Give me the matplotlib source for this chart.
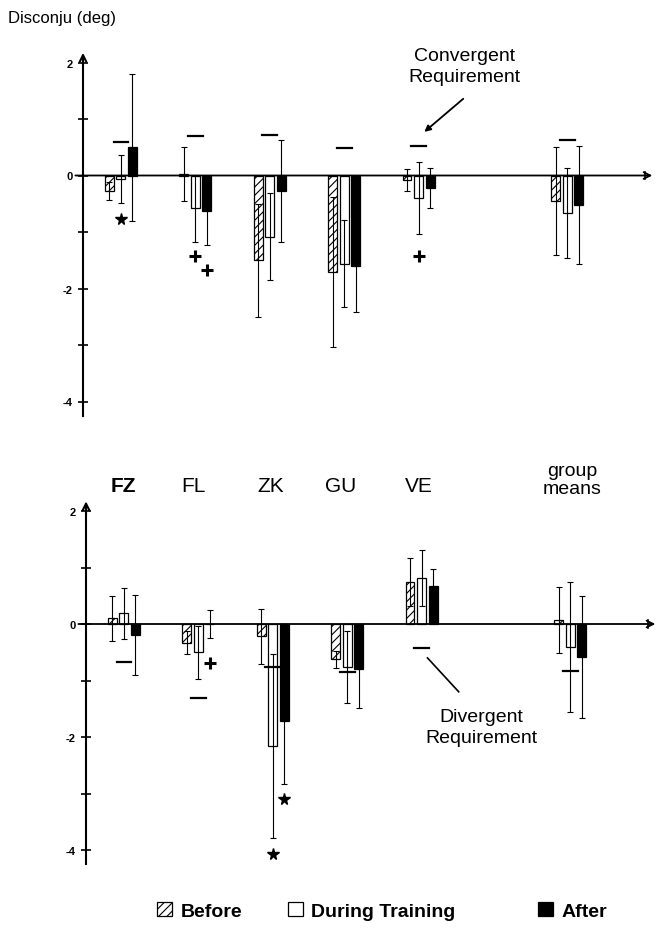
import numpy as np
import matplotlib.pyplot as plt

plt.rcParams['font.family'] = ['Liberation Sans', 'DejaVu Sans']
plt.rcParams['hatch.linewidth'] = 0.8

groups = ['FZ', 'FL', 'ZK', 'GU', 'VE', 'group\nmeans']
group_pos = np.array([1, 2, 3, 4, 5, 7])
phases = ['Before', 'During Training', 'After']

# convergent requirement (upper panel), disconjugacy in deg
conv_mean = {
    'Before':          [-0.28, 0.02, -1.50, -1.71, -0.08, -0.45],
    'During Training': [-0.06, -0.58, -1.08, -1.56, -0.40, -0.66],
    'After':           [0.50, -0.63, -0.28, -1.61, -0.22, -0.52],
}
conv_err = {
    'Before':          [0.16, 0.48, 1.00, 1.33, 0.20, 0.95],
    'During Training': [0.43, 0.59, 0.77, 0.77, 0.64, 0.80],
    'After':           [1.30, 0.60, 0.90, 0.80, 0.36, 1.05],
}
conv_req = [0.59, 0.70, 0.72, 0.49, 0.52, 0.63]

# divergent requirement (lower panel)
div_mean = {
    'Before':          [0.10, -0.33, -0.22, -0.62, 0.74, 0.07],
    'During Training': [0.19, -0.50, -2.16, -0.76, 0.81, -0.40],
    'After':           [-0.19, 0.00, -1.72, -0.80, 0.67, -0.58],
}
div_err = {
    'Before':          [0.40, 0.20, 0.48, 0.15, 0.43, 0.58],
    'During Training': [0.45, 0.47, 1.63, 0.64, 0.50, 1.15],
    'After':           [0.71, 0.25, 1.11, 0.69, 0.30, 1.08],
}
div_req = [-0.67, -1.31, -0.76, -0.85, -0.43, -0.83]

# significance marks: (symbol, group index, phase index, y)
conv_sig = [('*', 0, 1, -0.77), ('+', 1, 1, -1.42), ('+', 1, 2, -1.67), ('+', 4, 1, -1.42)]
div_sig = [('+', 1, 2, -0.69), ('*', 2, 1, -4.07), ('*', 2, 2, -3.09)]

W = 0.12
OFF = [-0.155, 0.0, 0.155]
STYLE = {
    'Before': dict(facecolor='white', hatch='////'),
    'During Training': dict(facecolor='white'),
    'After': dict(facecolor='black'),
}
X0, X1 = -0.626, 8.30


def panel(ax, means, errs, req, sig):
    handles = []
    for k, ph in enumerate(phases):
        b = ax.bar(group_pos + OFF[k], means[ph], W, yerr=errs[ph], edgecolor='black',
                   linewidth=0.9, capsize=2, zorder=2,
                   error_kw=dict(elinewidth=0.8, capthick=0.8, ecolor='black', zorder=3),
                   **STYLE[ph])
        handles.append(b)
    # requirement dashes
    for p, r in zip(group_pos, req):
        ax.plot([p - 0.1, p + 0.1], [r, r], color='black', lw=1.6, zorder=4)
    for sym, g, k, y in sig:
        x = group_pos[g] + OFF[k]
        if sym == '*':
            ax.plot(x, y, marker='*', ms=8.5, color='black', zorder=4)
        else:
            ax.plot(x, y, marker='+', ms=9, mew=2.2, color='black', zorder=4)

    ax.set_xlim(X0, X1)
    for s in ['top', 'right', 'bottom']:
        ax.spines[s].set_visible(False)
    ax.spines['left'].set_position(('data', 0.49))
    ax.spines['left'].set_bounds(-4.25, 2.1)
    ax.spines['left'].set_linewidth(1.5)
    ax.set_xticks([])
    ax.set_yticks(range(-4, 3))
    ax.set_yticklabels(['-4', '', '-2', '', '0', '', '2'], fontsize=8, fontweight='bold')
    ax.tick_params(axis='y', direction='inout', length=7, width=1.2, pad=4)
    ax.annotate('', xy=(0.49, 2.22), xytext=(0.49, 1.9),
                arrowprops=dict(arrowstyle='->', lw=1.5, color='black', mutation_scale=12))
    ax.annotate('', xy=(8.18, 0), xytext=(0.35, 0),
                arrowprops=dict(arrowstyle='->', lw=1.3, color='black', mutation_scale=12))
    ax.plot([8.05, 8.05], [-0.07, 0.07], color='black', lw=1.2)
    return handles


fig = plt.figure(figsize=(6.64, 9.37), dpi=100)
ax1 = fig.add_axes([0, 1 - 430 / 937, 1, 390 / 937])
ax1.set_ylim(-(430 - 176.5) / 56.5, (176.5 - 40) / 56.5)
ax2 = fig.add_axes([3 / 664, 1 - 870 / 937, 1, 375 / 937])
ax2.set_ylim(-(870 - 625) / 56.5, (625 - 495) / 56.5)

handles = panel(ax1, conv_mean, conv_err, conv_req, conv_sig)
panel(ax2, div_mean, div_err, div_req, div_sig)

fig.text(8 / 664, 1 - 18 / 937, 'Disconju (deg)', fontsize=12, va='center', ha='left')

ax1.text(5.62, 1.94, 'Convergent\nRequirement', fontsize=14, ha='center', va='center',
         linespacing=1.3)
ax1.annotate('', xy=(5.05, 0.74), xytext=(5.63, 1.39),
             arrowprops=dict(arrowstyle='-|>', lw=1.3, color='black', mutation_scale=9))

ax2.text(5.80, -1.82, 'Divergent\nRequirement', fontsize=14, ha='center', va='center',
         linespacing=1.3)
ax2.plot([5.08, 5.50], [-0.60, -1.20], color='black', lw=1.2)

lab_x = [0.99, 1.93, 2.98, 3.91, 4.96, 7.03]
for i, (g, x) in enumerate(zip(groups, lab_x)):
    ax2.text(x, 2.46 if i < 5 else 2.56, g, fontsize=15 if i < 5 else 14,
             fontweight='bold' if i == 0 else 'normal', ha='center', va='center',
             linespacing=1.05)

# legend entries placed separately, like the original layout
for h, ph, xl in zip(handles, phases, [157 / 664, 288 / 664, 538 / 664]):
    fig.legend([h], [ph], loc='center left', bbox_to_anchor=(xl, 1 - 912 / 937),
               frameon=False, borderpad=0, borderaxespad=0, handlelength=0.75,
               handleheight=0.75, handletextpad=0.45, prop={'weight': 'bold', 'size': 14})

fig.savefig('out.png', dpi=100)
